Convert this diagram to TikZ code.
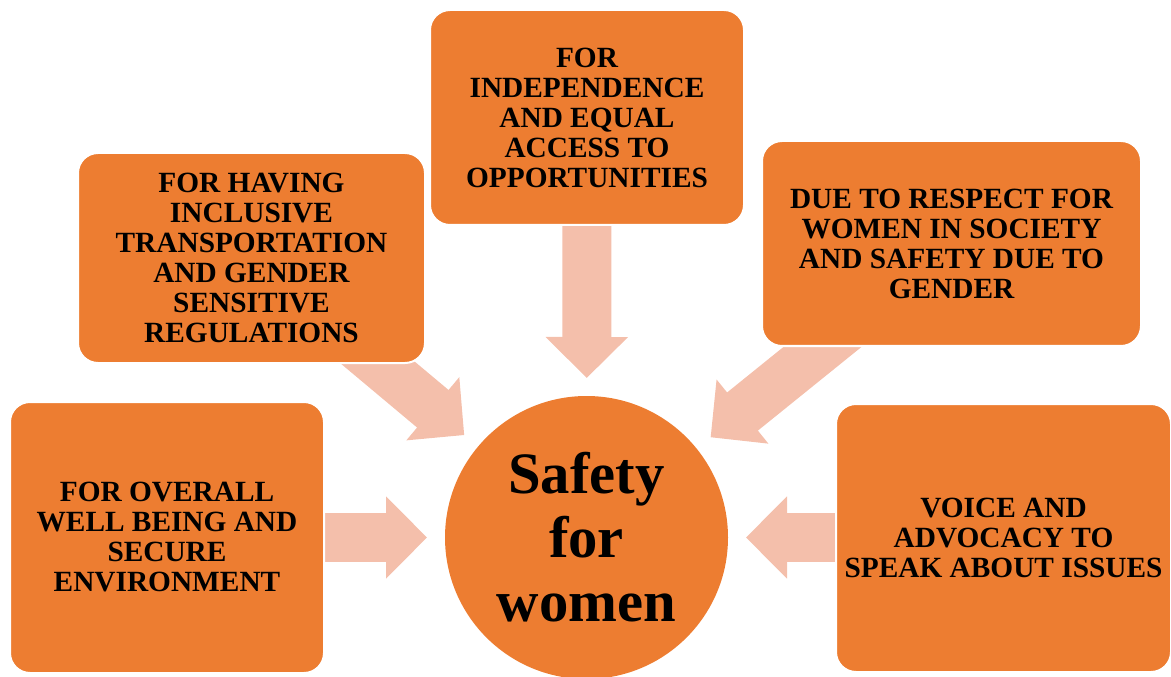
\documentclass[tikz,border=0pt]{standalone}
\usepackage{fontspec}
\setmainfont{Liberation Serif}
\usepackage{tikz}
\usetikzlibrary{arrows.meta,backgrounds}

\definecolor{boxorange}{HTML}{ED7D31}
\definecolor{arrowpeach}{HTML}{F4BFAB}

\begin{document}
\begin{tikzpicture}[x=0.75pt, y=-0.75pt,
  reason/.style={rectangle, rounded corners=15pt, fill=boxorange, draw=white, line width=1.5pt,
    inner sep=0pt, align=center, font=\fontsize{22}{22.5}\selectfont\bfseries},
  fat/.style={arrowpeach, line width=36.75pt, -{Triangle[length=30.75pt, width=60pt]}}]

\clip (0,0) rectangle (1171,677);

% centre
\node[circle, fill=boxorange, minimum size=212.25pt, inner sep=0pt, outer sep=13.5pt,
  align=center, font=\fontsize{44}{48}\selectfont\bfseries] (safety) at (586.5,537.5)
  {Safety\\for\\women};

% reasons
\node[reason, minimum width=235.5pt, minimum height=161.25pt] (access) at (587,117.5)
  {FOR\\INDEPENDENCE\\AND EQUAL\\ACCESS TO\\OPPORTUNITIES};
\node[reason, minimum width=260.25pt, minimum height=157.5pt] (transport) at (251.5,258)
  {FOR HAVING\\INCLUSIVE\\TRANSPORTATION\\AND GENDER\\SENSITIVE\\REGULATIONS};
\node[reason, minimum width=284.25pt, minimum height=153.75pt] (respect) at (951.5,243.5)
  {DUE TO RESPECT FOR\\WOMEN IN SOCIETY\\AND SAFETY DUE TO\\GENDER};
\node[reason, minimum width=235.5pt, minimum height=203.25pt] (wellbeing) at (167,537.5)
  {FOR OVERALL\\WELL BEING AND\\SECURE\\ENVIRONMENT};
\node[reason, minimum width=251.25pt, minimum height=201pt] (voice) at (1003.5,538)
  {VOICE AND\\ADVOCACY TO\\SPEAK ABOUT ISSUES};

% tails, hidden under the boxes
\coordinate (a1) at (587,200);
\coordinate (a2) at (340,331);
\coordinate (a3) at (867,311);
\coordinate (a4) at (300,537.5);
\coordinate (a5) at (860,537.5);

% arrows
\begin{scope}[on background layer]
\draw[fat] (a1) -- (safety);
\draw[fat] (a2) -- (safety);
\draw[fat] (a3) -- (safety);
\draw[fat] (a4) -- (safety);
\draw[fat] (a5) -- (safety);
\end{scope}

\end{tikzpicture}
\end{document}
